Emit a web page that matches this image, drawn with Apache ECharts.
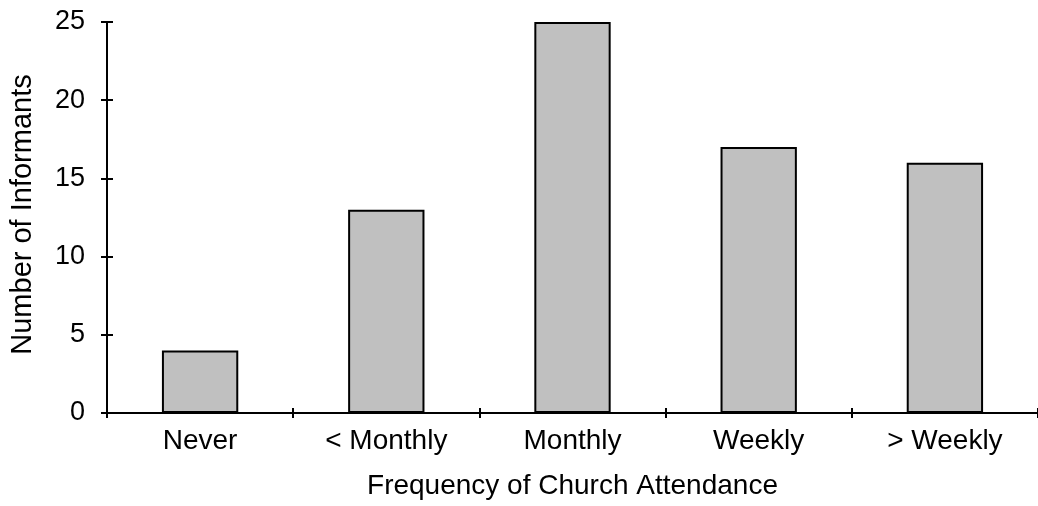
<!DOCTYPE html>
<html>
<head>
<meta charset="utf-8">
<script src="https://cdn.jsdelivr.net/npm/echarts@6/dist/echarts.min.js"></script>
<style>
html, body { margin: 0; padding: 0; background: #fff; }
#chart { width: 1038px; height: 506px; }
</style>
</head>
<body>
<div id="chart"></div>
<script>
// 数据
var categories = ['Never', '< Monthly', 'Monthly', 'Weekly', '> Weekly'];
var informants = [4, 13, 25, 17, 16];
var yTicks = [0, 5, 10, 15, 20, 25];

var chart = echarts.init(document.getElementById('chart'));
var font = 'Liberation Sans, Arial, sans-serif';

var option = {
    animation: false,
    grid: {
        left: 106,
        top: 22,
        width: 937,
        bottom: 93
    },
    xAxis: [{
        type: 'category',
        data: categories,
        name: 'Frequency of Church Attendance',
        nameLocation: 'middle',
        nameGap: 59,
        nameTextStyle: { color: '#000', fontSize: 28, fontFamily: font },
        axisLine: { lineStyle: { color: '#000', width: 2 } },
        axisTick: { show: true, length: 5, lineStyle: { color: '#000', width: 2 } },
        axisLabel: { color: '#000', fontSize: 28, fontFamily: font, margin: 14 }
    }, {
        type: 'category',
        data: categories,
        position: 'bottom',
        axisLine: { show: false },
        axisTick: { show: true, inside: true, length: 5, lineStyle: { color: '#000', width: 2 } },
        axisLabel: { show: false }
    }],
    yAxis: [{
        type: 'value',
        min: yTicks[0],
        max: yTicks[yTicks.length - 1],
        interval: 5,
        name: 'Number of Informants',
        nameLocation: 'middle',
        nameGap: 70,
        nameTextStyle: { color: '#000', fontSize: 29, fontFamily: font, padding: [0, 0, 0, 6] },
        splitLine: { show: false },
        axisLine: { show: true, lineStyle: { color: '#000', width: 2 } },
        axisTick: { show: true, length: 6, lineStyle: { color: '#000', width: 2 } },
        axisLabel: { color: '#000', fontSize: 27, fontFamily: font, margin: 22 }
    }, {
        type: 'value',
        min: yTicks[0],
        max: yTicks[yTicks.length - 1],
        interval: 5,
        position: 'left',
        splitLine: { show: false },
        axisLine: { show: false },
        axisTick: { show: true, inside: true, length: 6, lineStyle: { color: '#000', width: 2 } },
        axisLabel: { show: false }
    }],
    series: [{
        type: 'bar',
        data: informants,
        barWidth: '41%',
        itemStyle: {
            color: '#c0c0c0',
            borderColor: '#000',
            borderWidth: 2
        }
    }]
};

chart.setOption(option);
</script>
</body>
</html>
